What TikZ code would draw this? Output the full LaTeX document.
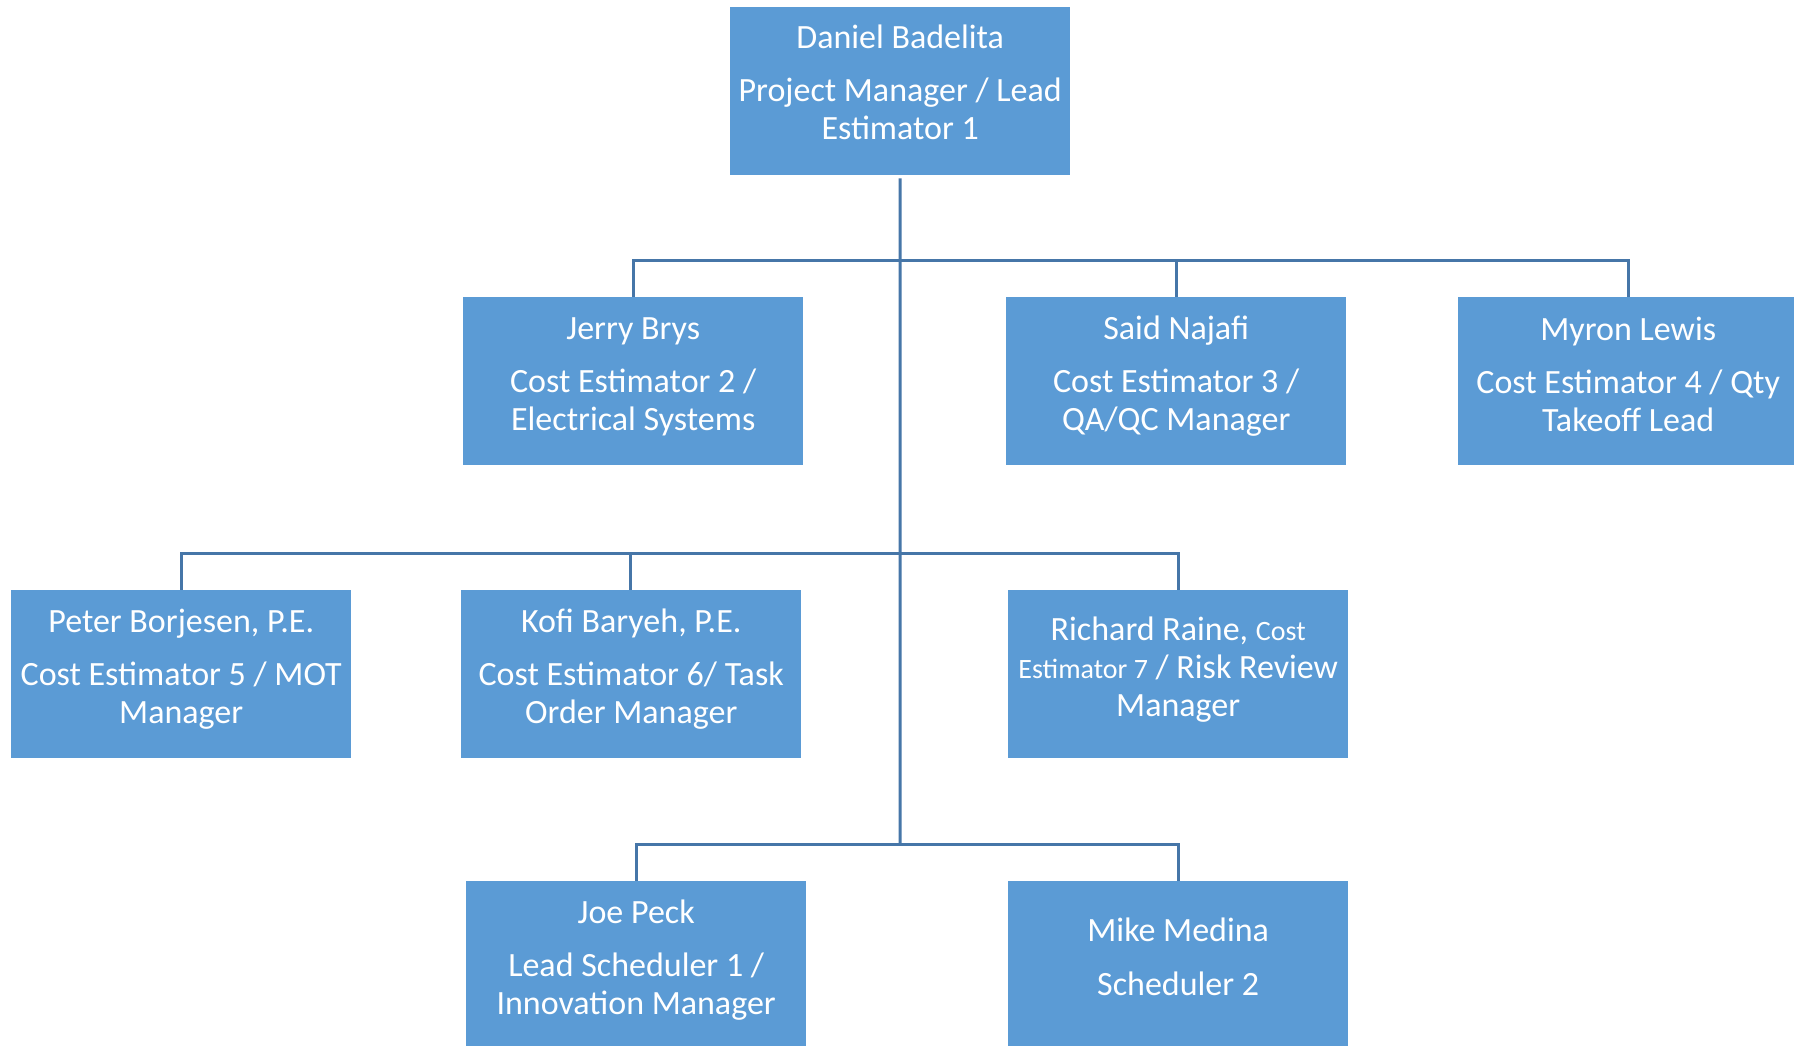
\documentclass[tikz,border=0pt]{standalone}
\usepackage{fontspec}
\setmainfont{Carlito}
\definecolor{boxblue}{HTML}{5B9BD5}
\definecolor{linkblue}{HTML}{4676A8}
\newcommand\smallrole{\fontsize{28}{38}\selectfont}
\begin{document}
\begin{tikzpicture}[x=1pt,y=-1pt,
  box/.style={fill=boxblue, draw=none, minimum width=340pt, minimum height=168pt, inner sep=0pt, anchor=north west},
  txt/.style={text=white, align=center, anchor=base, inner sep=0pt, font=\fontsize{34}{38}\selectfont},
  conn/.style={draw=linkblue, line width=3pt}]
\clip (0,0) rectangle (1794,1046);
\fill[white] (0,0) rectangle (1794,1046);
% boxes
\node[box] (daniel)  at (730,7) {};
\node[box] (jerry)   at (463,297) {};
\node[box] (said)    at (1006,297) {};
\node[box] (myron)   at (1458,297) {};
\node[box] (peter)   at (11,590) {};
\node[box] (kofi)    at (461,590) {};
\node[box] (richard) at (1008,590) {};
\node[box] (joe)     at (466,881) {};
\node[box] (mike)    at (1008,881) {};
% texts (anchored at the baseline of the last line)
\node[txt] (danielt)  at ([yshift=-133pt]daniel.north) {Daniel Badelita\\[15pt]Project Manager / Lead\\Estimator 1};
\node[txt] (jerryt)   at ([yshift=-133pt]jerry.north) {Jerry Brys\\[15pt]Cost Estimator 2 /\\Electrical Systems};
\node[txt] (saidt)    at ([yshift=-133pt]said.north) {Said Najafi\\[15pt]Cost Estimator 3 /\\QA/QC Manager};
\node[txt] (myront)   at ([yshift=-134pt]myron.north) {Myron Lewis\\[15pt]Cost Estimator 4 / Qty\\Takeoff Lead};
\node[txt] (petert)   at ([yshift=-133pt]peter.north) {Peter Borjesen, P.E.\\[15pt]Cost Estimator 5 / MOT\\Manager};
\node[txt] (kofit)    at ([yshift=-133pt]kofi.north) {Kofi Baryeh, P.E.\\[15pt]Cost Estimator 6/ Task\\Order Manager};
\node[txt] (richardt) at ([yshift=-126pt]richard.north) {Richard Raine, {\smallrole Cost}\\{\smallrole Estimator 7} / Risk Review\\Manager};
\node[txt] (joet)     at ([yshift=-133pt]joe.north) {Joe Peck\\[15pt]Lead Scheduler 1 /\\Innovation Manager};
\node[txt] (miket)    at ([yshift=-114pt]mike.north) {Mike Medina\\[16pt]Scheduler 2};
% connectors
\coordinate (j1) at (900,260);
\coordinate (j2) at (900,553);
\coordinate (j3) at (900,844);
\draw[conn] ([yshift=-3pt]daniel.south) -- (j3);
\draw[conn] (j1) -| (jerry.north);
\draw[conn] (j1) -| (said.north);
\draw[conn] (j1) -| (myron.north);
\draw[conn] (j2) -| (peter.north);
\draw[conn] (j2) -| ([xshift=-1pt]kofi.north);
\draw[conn] (j2) -| (richard.north);
\draw[conn] (j3) -| (joe.north);
\draw[conn] (j3) -| (mike.north);
\end{tikzpicture}
\end{document}
